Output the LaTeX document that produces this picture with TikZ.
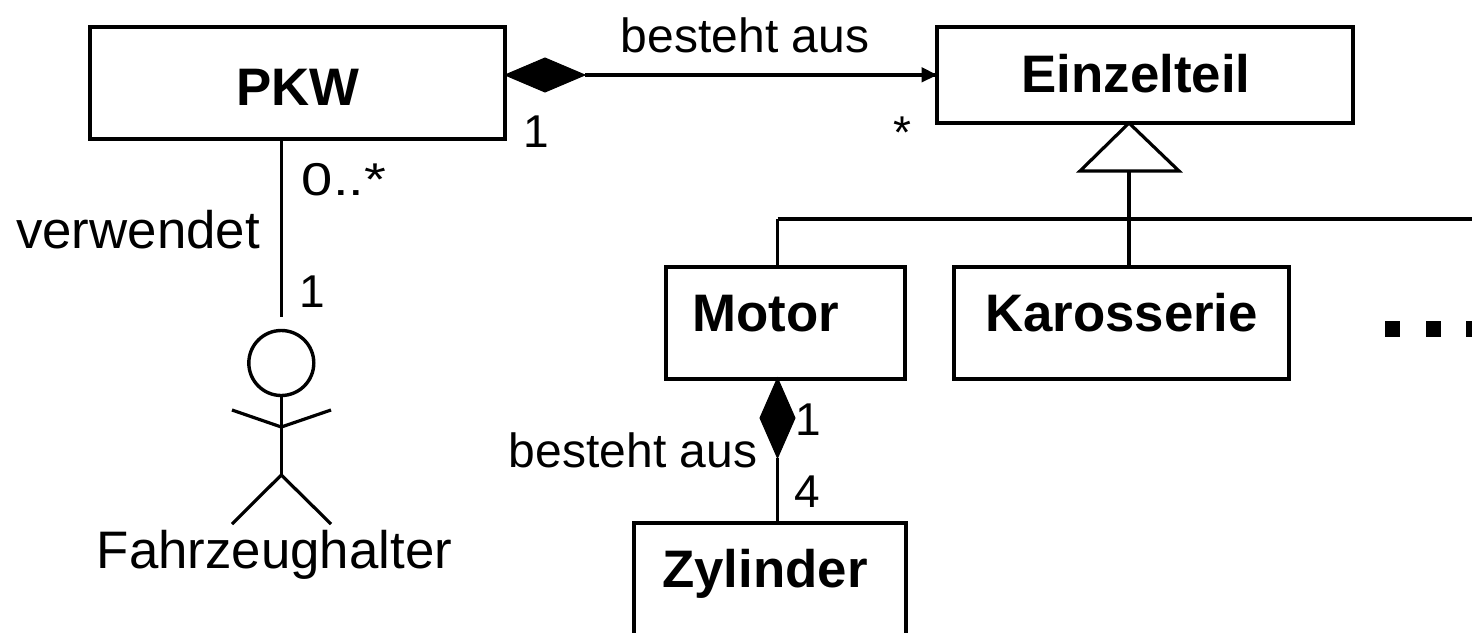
\documentclass[tikz,border=0pt]{standalone}
\usepackage{fontspec}
\setmainfont{Liberation Sans}
\tikzset{
  box/.style={draw=black,line width=2pt,fill=white,inner sep=0pt,outer sep=0pt,anchor=north west},
  lab/.style={font=\fontsize{26.4}{30}\selectfont\bfseries,inner sep=0pt,text=black,anchor=base},
  txt/.style={font=\fontsize{26.4}{30}\selectfont,inner sep=0pt,text=black,anchor=base},
  rel/.style={font=\fontsize{24}{28}\selectfont,inner sep=0pt,text=black,anchor=base},
  mult/.style={font=\fontsize{23}{28}\selectfont,inner sep=0pt,text=black,anchor=base},
  conn/.style={draw=black,line width=1.6pt},
  dia/.style={draw=black,fill=black,line width=0.5pt,line join=miter},
}
\begin{document}
\begin{tikzpicture}[x=0.5pt,y=-0.5pt]
\useasboundingbox (0,0) rectangle (1472,632);
% boxes
\node[box,minimum width=207.5pt,minimum height=56pt] (pkw) at (90,27) {};
\node[box,minimum width=208pt,minimum height=48pt] (einzel) at (937,27) {};
\node[box,minimum width=119.5pt,minimum height=56pt] (motor) at (666,267) {};
\node[box,minimum width=167.5pt,minimum height=56pt] (karo) at (954,267) {};
\node[box,minimum width=136pt,minimum height=70pt] (zyl) at (634,523) {};
\node[lab] (tpkw) at (298,105) {PKW};
\node[lab] (teinzel) at (1136,92) {Einzelteil};
\node[lab] (tmotor) at (766,331) {Motor};
\node[lab] (tkaro) at (1121.5,331) {Karosserie};
\node[lab] (tzyl) at (765,587) {Zylinder};
% composition PKW -> Einzelteil
\coordinate (d1a) at (pkw.east |- 0,75);
\coordinate (d1b) at (585,75);
\coordinate (e1) at (einzel.west |- d1a);
\draw[conn] (d1b) -- (e1);
\path[dia] (d1a) -- (545,58) -- (d1b) -- (545,92) -- cycle;
\path[fill=black] (e1) -- (921.5,67) -- (921.5,82.5) -- cycle;
% generalisation
\coordinate (apex) at (1129,123);
\coordinate (tribase) at (1129,171);
\coordinate (busL) at (777.5,219);
\coordinate (busR) at (1472,219);
\draw[conn,line join=miter] (apex) -- (1179,171) -- (1080,171) -- cycle;
\draw[conn] (tribase) -- (karo.north -| tribase);
\draw[conn] (busL) -- (busR);
\draw[conn] (busL) -- (motor.north -| busL);
% composition Motor -> Zylinder
\coordinate (d2a) at (777.5,378);
\coordinate (d2b) at (777.5,458);
\draw[conn] (d2b) -- (zyl.north -| d2b);
\path[dia] (d2a) -- (795,418) -- (d2b) -- (760,418) -- cycle;
% actor
\coordinate (head) at (281.3,363);
\coordinate (afoot) at (281.3,317);
\draw[conn] (pkw.south -| afoot) -- (afoot);
\node[draw=black,line width=1.7pt,circle,minimum size=32.5pt,inner sep=0pt,outer sep=0pt] (actor) at (head) {};
\draw[conn] (actor.south) -- (281.3,475) coordinate (hip);
\draw[conn] (232,410) -- (281.3,427) -- (331,410);
\draw[conn] (232,524) -- (hip) -- (331,524);
% dots
\fill[black] (1385,321) rectangle (1400,337);
\fill[black] (1426,321) rectangle (1441,337);
\fill[black] (1466,321) rectangle (1481,337);
% texts
\node[rel] (t1) at (745,52) {besteht aus};
\node[rel] (t2) at (633,467) {besteht aus};
\node[txt] (t3) at (138,248) {verwendet};
\node[txt] (t4) at (274.5,568) {Fahrzeughalter};
\node[mult] (m1) at (536,147) {1};
\node[mult] (m2) at (902,148) {*};
\node[mult,xscale=1.22] (m3) at (344,195) {0..*};
\node[mult] (m4) at (312,307) {1};
\node[mult] (m5) at (808,435) {1};
\node[mult] (m6) at (807,507) {4};
\end{tikzpicture}
\end{document}
